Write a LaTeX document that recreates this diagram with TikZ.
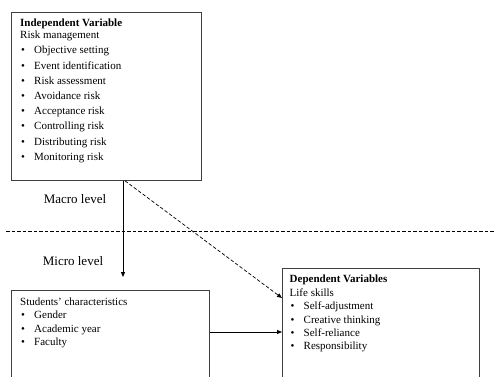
\documentclass[tikz,border=0pt]{standalone}
\usepackage{fontspec}
\setmainfont{Liberation Serif}
\usetikzlibrary{arrows.meta, positioning}

\newcommand{\itm}[1]{\hspace*{1pt}\makebox[13pt][l]{\textbullet}#1}

\begin{document}
\begin{tikzpicture}[
    x=1pt, y=-1pt,
    box/.style={draw=black!75, line width=0.8pt, rectangle, inner sep=0pt, anchor=north west},
    list/.style={align=left, inner sep=0pt, anchor=north west, font=\fontsize{11}{13.4}\selectfont},
    level/.style={font=\fontsize{13}{15}\selectfont, inner sep=0pt},
    link/.style={line width=0.8pt, -{Triangle[length=5pt, width=4pt]}},
    split/.style={line width=0.7pt, dash pattern=on 3.5pt off 2pt}
]
    \useasboundingbox (0,0) rectangle (495,376);

    % --- The frames ---
    \node[box, minimum width=190pt, minimum height=168pt] (indep) at (11,12) {};
    \node[box, minimum width=198pt, minimum height=100pt] (students) at (11,290) {};
    \node[box, minimum width=197pt, minimum height=120pt] (dep) at (282,268) {};

    % --- The texts inside ---
    \node[list, font=\fontsize{11}{15.2}\selectfont] (indeptext) at (20,18.5)
    {
        \textbf{Independent Variable}\\[-2.9pt]
        Risk management\\
        \itm{Objective setting}\\
        \itm{Event identification}\\
        \itm{Risk assessment}\\
        \itm{Avoidance risk}\\
        \itm{Acceptance risk}\\
        \itm{Controlling risk}\\
        \itm{Distributing risk}\\
        \itm{Monitoring risk}
    };
    \node[list] (studtext) at (20,297.5)
    {
        Students' characteristics\\
        \itm{Gender}\\
        \itm{Academic year}\\
        \itm{Faculty}
    };
    \node[list] (deptext) at (289.5,275)
    {
        \textbf{Dependent Variables}\\
        Life skills\\
        \itm{Self-adjustment}\\
        \itm{Creative thinking}\\
        \itm{Self-reliance}\\
        \itm{Responsibility}
    };

    % --- Levels ---
    \node[level] (macro) at (75,199) {Macro level};
    \node[level] (micro) at (73,261) {Micro level};
    \coordinate (splitL) at (6,231);
    \coordinate (splitR) at (495,231);
    \draw[split] (splitL) -- (splitR);

    % --- Connectors ---
    \coordinate (down) at (123,277);
    \draw[link] (indep.south west -| down) -- (down);
    \draw[link, split] ([xshift=114pt]indep.south west) -- ([yshift=-30pt]dep.north west);
    \draw[link] ([yshift=-42pt]students.north east) -- ([yshift=-64pt]dep.north west);
\end{tikzpicture}
\end{document}
